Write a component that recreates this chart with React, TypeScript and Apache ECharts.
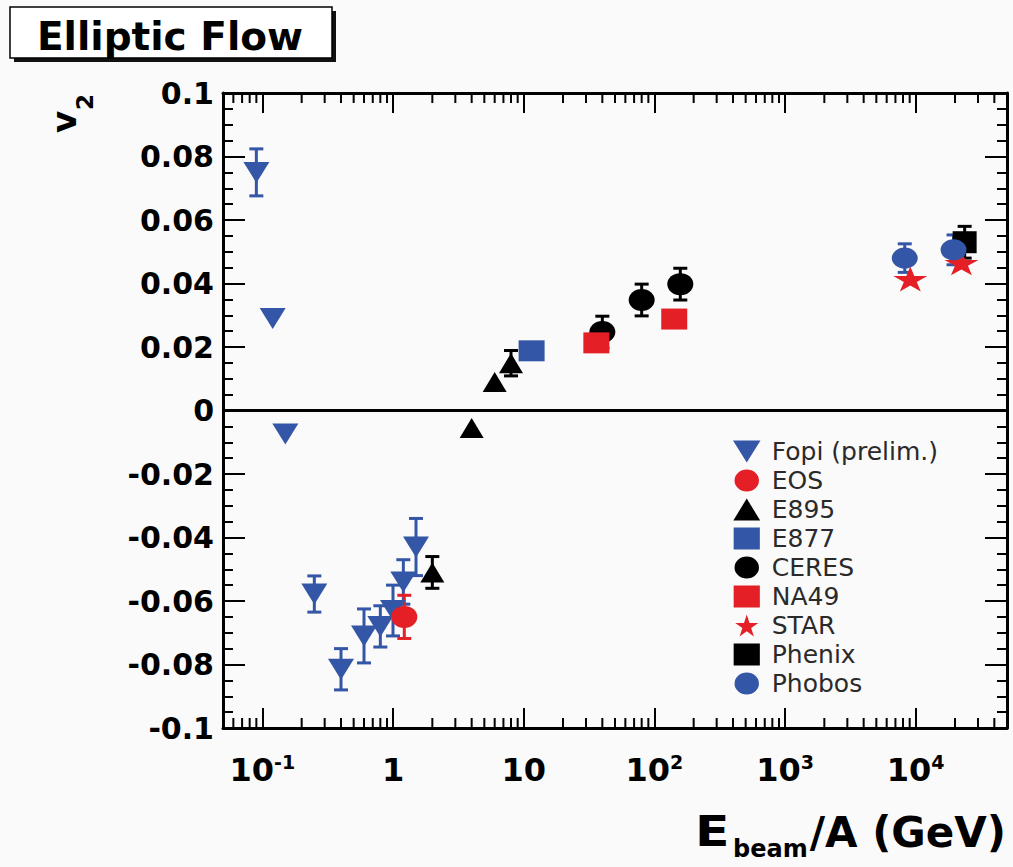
import React, { useEffect, useRef } from 'react';
import * as echarts from 'echarts';

// ---- data (E_beam/A in GeV, v2) ----
const fopiE = [0.09, 0.12, 0.15, 0.25, 0.4, 0.6, 0.8, 1.0, 1.2, 1.5];
const fopiV = [0.075, 0.029, -0.0074, -0.0578, -0.0815, -0.071, -0.068, -0.063, -0.054, -0.043];
const fopiErr = [0.0074, 0, 0, 0.0057, 0.0065, 0.0085, 0.0065, 0.008, 0.007, 0.009];

const eosE = [1.22];
const eosV = [-0.065];
const eosErr = [0.0068];

const e895E = [2, 4, 6, 8];
const e895V = [-0.051, -0.0055, 0.009, 0.0149];
const e895Err = [0.005, 0, 0, 0.004];

const e877E = [11.5];
const e877V = [0.0188];

const ceresE = [40, 80, 158];
const ceresV = [0.0247, 0.0348, 0.0398];
const ceresErr = [0.005, 0.005, 0.005];

const na49E = [36, 142];
const na49V = [0.0213, 0.0288];

const starE = [9100, 22400];
const starV = [0.0414, 0.0465];

const phenixE = [23700];
const phenixV = [0.053];
const phenixErr = [0.005];

const phobosE = [8250, 19500];
const phobosV = [0.048, 0.0506];
const phobosErr = [0.0045, 0.0047];

const legendNames = ['Fopi (prelim.)', 'EOS', 'E895', 'E877', 'CERES', 'NA49', 'STAR', 'Phenix', 'Phobos'];

const xMin = 0.05;
const xMax = 50000;
const yMin = -0.1;
const yMax = 0.1;
const yStep = 0.02;
const minorDecades = [-2, -1, 0, 1, 2, 3, 4];
const minorMult = [2, 3, 4, 5, 6, 7, 8, 9];

const BLUE = '#3456a6';
const RED = '#e41f26';
const BLACK = '#000000';
const FONT = 'DejaVu Sans';

const TRI_DOWN = 'path://M0,0L100,0L50,80Z';
const TRI_UP = 'path://M50,0L100,82L0,82Z';
const SQUARE = 'path://M0,0L100,0L100,84L0,84Z';
const STAR = 'path://M50,0L61.2,34.6L97.6,34.5L68.1,55.9L79.4,90.5L50,69L20.6,90.5L31.9,55.9L2.4,34.5L38.8,34.6Z';
const ELLIPSE = 'path://M0,45A50,45 0 1,1 100,45A50,45 0 1,1 0,45Z';

function pts(xs: number[], ys: number[]) {
  return xs.map((x, i) => [x, ys[i]]);
}

function errSeries(name: string, xs: number[], ys: number[], errs: number[], color: string) {
  const data = xs
    .map((x, i) => [x, ys[i], ys[i] - errs[i], ys[i] + errs[i]])
    .filter((_, i) => errs[i] > 0);
  return {
    type: 'custom',
    name: name + ' err',
    silent: true,
    z: 2,
    xAxisIndex: 0,
    yAxisIndex: 0,
    data,
    encode: { x: 0, y: 1 },
    renderItem: (params: any, api: any) => {
      const x = api.value(0);
      const lo = api.coord([x, api.value(2)]);
      const hi = api.coord([x, api.value(3)]);
      const c = 7;
      const st = { stroke: color, lineWidth: 3 };
      return {
        type: 'group',
        children: [
          { type: 'line', shape: { x1: lo[0], y1: lo[1], x2: hi[0], y2: hi[1] }, style: st },
          { type: 'line', shape: { x1: lo[0] - c, y1: lo[1], x2: lo[0] + c, y2: lo[1] }, style: st },
          { type: 'line', shape: { x1: hi[0] - c, y1: hi[1], x2: hi[0] + c, y2: hi[1] }, style: st },
        ],
      };
    },
  };
}

export default function App() {
  const ref = useRef<HTMLDivElement>(null);
  useEffect(() => {
    if (!ref.current) return;
    const chart = echarts.init(ref.current, undefined, { renderer: 'svg' });

    const minorTicks: number[] = [];
    minorDecades.forEach((d) =>
      minorMult.forEach((m) => {
        const v = m * Math.pow(10, d);
        if (v > xMin * 1.0001 && v < xMax * 0.9999) minorTicks.push(v);
      })
    );

    const xLabelFmt = (v: number) => {
      const e = Math.log10(v);
      const r = Math.round(e);
      if (Math.abs(e - r) > 1e-6) return '';
      if (r === 0) return '{b|1}';
      if (r === 1) return '{b|10}';
      return '{b|10}{s|' + r + '}';
    };

    const xAxisCommon = {
      type: 'log',
      logBase: 10,
      min: xMin,
      max: xMax,
      splitLine: { show: false },
      axisLine: { show: true, onZero: false, lineStyle: { color: BLACK, width: 3 } },
      axisTick: { show: true, inside: true, length: 20, lineStyle: { color: BLACK, width: 2 } },
    };
    const yAxisCommon = {
      type: 'value',
      min: yMin,
      max: yMax,
      interval: yStep,
      splitLine: { show: false },
      axisLine: { show: true, onZero: false, lineStyle: { color: BLACK, width: 3 } },
      axisTick: { show: true, inside: true, length: 22, lineStyle: { color: BLACK, width: 2 } },
      minorTick: { show: true, splitNumber: 4, length: 10, lineStyle: { color: BLACK, width: 2 } },
    };

    const scatter = (name: string, data: number[][], symbol: string, size: number[], color: string) => ({
      type: 'scatter',
      name,
      data,
      symbol,
      symbolSize: size,
      itemStyle: { color, opacity: 1 },
      z: 3,
      xAxisIndex: 0,
      yAxisIndex: 0,
    });

    const option: any = {
      animation: false,
      backgroundColor: '#fafafa',
      grid: { left: 223, top: 93, width: 784, height: 635 },
      xAxis: [
        {
          ...xAxisCommon,
          position: 'bottom',
          axisLabel: {
            show: true,
            margin: 24,
            showMinLabel: false,
            showMaxLabel: false,
            formatter: xLabelFmt,
            rich: {
              b: { fontSize: 32, fontWeight: 'bold', fontFamily: FONT, color: BLACK, lineHeight: 36 },
              s: { fontSize: 19, fontWeight: 'bold', fontFamily: FONT, color: BLACK, lineHeight: 19, verticalAlign: 'top' },
            },
          },
        },
        { ...xAxisCommon, position: 'top', axisLabel: { show: false } },
      ],
      yAxis: [
        {
          ...yAxisCommon,
          position: 'left',
          axisLabel: { show: true, margin: 9, fontSize: 30, fontWeight: 'bold', fontFamily: FONT, color: BLACK },
        },
        { ...yAxisCommon, position: 'right', axisLabel: { show: false } },
      ],
      legend: {
        data: legendNames,
        orient: 'vertical',
        left: 733,
        top: 437,
        padding: 0,
        itemWidth: 40,
        itemHeight: 22,
        itemGap: 0,
        selectedMode: false,
        textStyle: { fontSize: 25, fontFamily: FONT, color: '#2a2a2a', lineHeight: 29 },
      },
      series: [
        {
          type: 'custom',
          name: 'minor ticks',
          silent: true,
          z: 1,
          data: minorTicks.map((v) => [v, 0]),
          encode: { x: 0, y: 1 },
          renderItem: (params: any, api: any) => {
            const x = api.value(0);
            const b = api.coord([x, yMin]);
            const t = api.coord([x, yMax]);
            const st = { stroke: BLACK, lineWidth: 2 };
            return {
              type: 'group',
              children: [
                { type: 'line', shape: { x1: b[0], y1: b[1], x2: b[0], y2: b[1] - 10 }, style: st },
                { type: 'line', shape: { x1: t[0], y1: t[1], x2: t[0], y2: t[1] + 10 }, style: st },
              ],
            };
          },
        },
        errSeries('Fopi', fopiE, fopiV, fopiErr, BLUE),
        errSeries('EOS', eosE, eosV, eosErr, RED),
        errSeries('E895', e895E, e895V, e895Err, BLACK),
        errSeries('CERES', ceresE, ceresV, ceresErr, BLACK),
        errSeries('Phenix', phenixE, phenixV, phenixErr, BLACK),
        errSeries('Phobos', phobosE, phobosV, phobosErr, BLUE),
        {
          ...scatter('Fopi (prelim.)', pts(fopiE, fopiV), TRI_DOWN, [26, 21], BLUE),
          markLine: {
            silent: true,
            symbol: 'none',
            label: { show: false },
            lineStyle: { color: BLACK, width: 3, type: 'solid' },
            data: [{ yAxis: 0 }],
          },
        },
        scatter('EOS', pts(eosE, eosV), ELLIPSE, [26, 22], RED),
        scatter('E895', pts(e895E, e895V), TRI_UP, [24, 20], BLACK),
        scatter('E877', pts(e877E, e877V), SQUARE, [26, 21], BLUE),
        scatter('CERES', pts(ceresE, ceresV), ELLIPSE, [26, 22], BLACK),
        scatter('NA49', pts(na49E, na49V), SQUARE, [26, 21], RED),
        scatter('STAR', pts(starE, starV), STAR, [34, 25], RED),
        scatter('Phenix', pts(phenixE, phenixV), SQUARE, [24, 22], BLACK),
        scatter('Phobos', pts(phobosE, phobosV), ELLIPSE, [26, 21], BLUE),
      ],
      graphic: [
        { type: 'rect', shape: { x: 14, y: 11, width: 322, height: 51 }, style: { fill: '#111' }, z: 10 },
        { type: 'rect', shape: { x: 10, y: 7, width: 322, height: 51 }, style: { fill: '#ffffff', stroke: BLACK, lineWidth: 1.5 }, z: 11 },
        {
          type: 'text', x: 170, y: 36, z: 12,
          style: { text: 'Elliptic Flow', fontSize: 39, fontWeight: 'bold', fontFamily: FONT, fill: BLACK, align: 'center', verticalAlign: 'middle' },
        },
        {
          type: 'text', x: 64, y: 122, rotation: Math.PI / 2, z: 12,
          style: { text: 'v', fontSize: 34, fontWeight: 'bold', fontFamily: FONT, fill: BLACK, align: 'center', verticalAlign: 'middle' },
        },
        {
          type: 'text', x: 85, y: 102, rotation: Math.PI / 2, z: 12,
          style: { text: '2', fontSize: 23, fontWeight: 'bold', fontFamily: FONT, fill: BLACK, align: 'center', verticalAlign: 'middle' },
        },
        {
          type: 'text', x: 695, y: 832, z: 12, scaleX: 1.2,
          style: { text: 'E', fontSize: 42, fontWeight: 'bold', fontFamily: FONT, fill: BLACK, align: 'left', verticalAlign: 'middle' },
        },
        {
          type: 'text', x: 733, y: 849, z: 12,
          style: { text: 'beam', fontSize: 24, fontWeight: 'bold', fontFamily: FONT, fill: BLACK, align: 'left', verticalAlign: 'middle' },
        },
        {
          type: 'text', x: 1006, y: 832, z: 12,
          style: { text: '/A (GeV)', fontSize: 42, fontWeight: 'bold', fontFamily: FONT, fill: BLACK, align: 'right', verticalAlign: 'middle' },
        },
      ],
    };

    chart.setOption(option);
    return () => chart.dispose();
  }, []);

  return (
    <div
      ref={ref}
      style={{ position: 'fixed', left: 0, top: 0, width: 1013, height: 867, background: '#fafafa' }}
    />
  );
}
